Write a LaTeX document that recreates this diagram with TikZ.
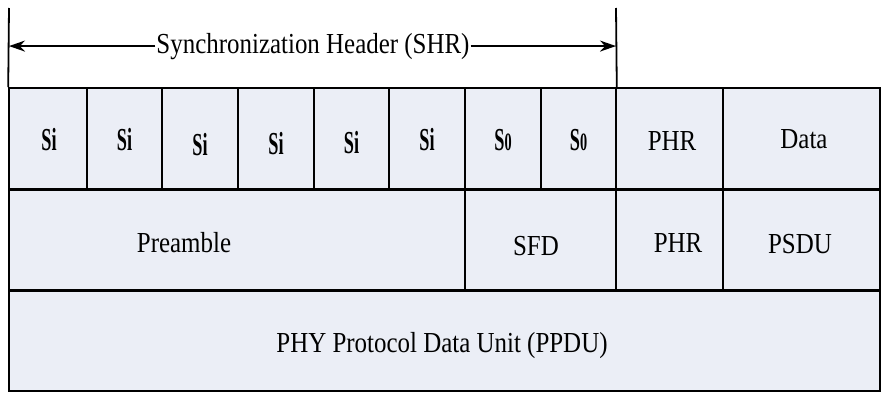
\documentclass[tikz,border=0pt]{standalone}
\usepackage{fontspec}
\setmainfont{Liberation Serif}
\usetikzlibrary{arrows.meta}
\definecolor{cellfill}{RGB}{235,238,246}
% condensed lettering used throughout
\newcommand{\narrow}[1]{\scalebox{0.86}[1]{#1}}
% condensed bold symbol labels: S with an index letter/digit
\newcommand{\symSi}{\scalebox{0.57}[1]{\bfseries Si}}
\newcommand{\symSo}{\scalebox{0.57}[1]{\bfseries S{\fontsize{25}{25}\selectfont 0}}}
\begin{document}
\begin{tikzpicture}[x=1pt,y=-1pt,
  cell/.style={draw=black, fill=cellfill, line width=1.6pt, inner sep=0pt,
    minimum height=101pt},
  txt/.style={inner sep=0pt, anchor=base, font=\fontsize{29}{31}\selectfont},
  symtxt/.style={inner sep=0pt, anchor=base, font=\fontsize{32}{34}\selectfont},
  sep/.style={line width=3.2pt},
  dimarrow/.style={line width=2pt, -{Stealth[length=16pt,width=11pt]}},
  bar/.style={line width=1.8pt}]
\useasboundingbox (0,0) rectangle (883,394);

% row 1: symbols, PHR and data
\node[cell, minimum width=78pt] (s1) at (48,138.5) {};
\node[cell, minimum width=75pt] (s2) at (124.5,138.5) {};
\node[cell, minimum width=76pt] (s3) at (200,138.5) {};
\node[cell, minimum width=76pt] (s4) at (276,138.5) {};
\node[cell, minimum width=75pt] (s5) at (351.5,138.5) {};
\node[cell, minimum width=76pt] (s6) at (427,138.5) {};
\node[cell, minimum width=76pt] (s7) at (503,138.5) {};
\node[cell, minimum width=75pt] (s8) at (578.5,138.5) {};
\node[cell, minimum width=107pt] (phr1) at (669.5,138.5) {};
\node[cell, minimum width=157pt] (data) at (801.5,138.5) {};

% row 2: preamble, SFD, PHR, PSDU
\node[cell, minimum width=456pt] (pre) at (237,239.5) {};
\node[cell, minimum width=151pt] (sfd) at (540.5,239.5) {};
\node[cell, minimum width=107pt] (phr2) at (669.5,239.5) {};
\node[cell, minimum width=157pt] (psdu) at (801.5,239.5) {};

% row 3: whole PPDU
\node[cell, minimum width=871pt] (ppdu) at (444.5,340.5) {};

% heavier rules between the rows
\draw[sep] (s1.south west) -- (data.south east);
\draw[sep] (pre.south west) -- (psdu.south east);

% cell labels, placed by their baselines
\node[symtxt] (l-s1) at (49,150) {\symSi};
\node[symtxt] (l-s2) at (124.5,150) {\symSi};
\node[symtxt] (l-s3) at (200,155) {\symSi};
\node[symtxt] (l-s4) at (276,154) {\symSi};
\node[symtxt] (l-s5) at (351.5,153) {\symSi};
\node[symtxt] (l-s6) at (427,150) {\symSi};
\node[symtxt] (l-s7) at (503,150) {\symSo};
\node[symtxt] (l-s8) at (578.5,150) {\symSo};
\node[txt] (l-phr1) at (672,150) {\narrow{PHR}};
\node[txt] (l-data) at (804,148) {\narrow{Data}};
\node[txt] (l-pre) at (184,252) {\narrow{Preamble}};
\node[txt] (l-sfd) at (536,255) {\narrow{SFD}};
\node[txt] (l-phr2) at (678,252) {\narrow{PHR}};
\node[txt] (l-psdu) at (800,253) {\narrow{PSDU}};
\node[txt] (l-ppdu) at (442,352) {\narrow{PHY Protocol Data Unit (PPDU)}};

% extent of the synchronization header
\coordinate (lt) at (9,8);
\coordinate (rt) at (616,8);
\draw[bar] (lt) -- (s1.north west);
\draw[bar] (rt) -- (s8.north east);
\node[txt, inner sep=1pt] (shr) at (313,53) {\narrow{Synchronization Header (SHR)}};
\draw[dimarrow] (shr.west) -- (lt |- shr.west);
\draw[dimarrow] (shr.east) -- (rt |- shr.east);
\end{tikzpicture}
\end{document}
